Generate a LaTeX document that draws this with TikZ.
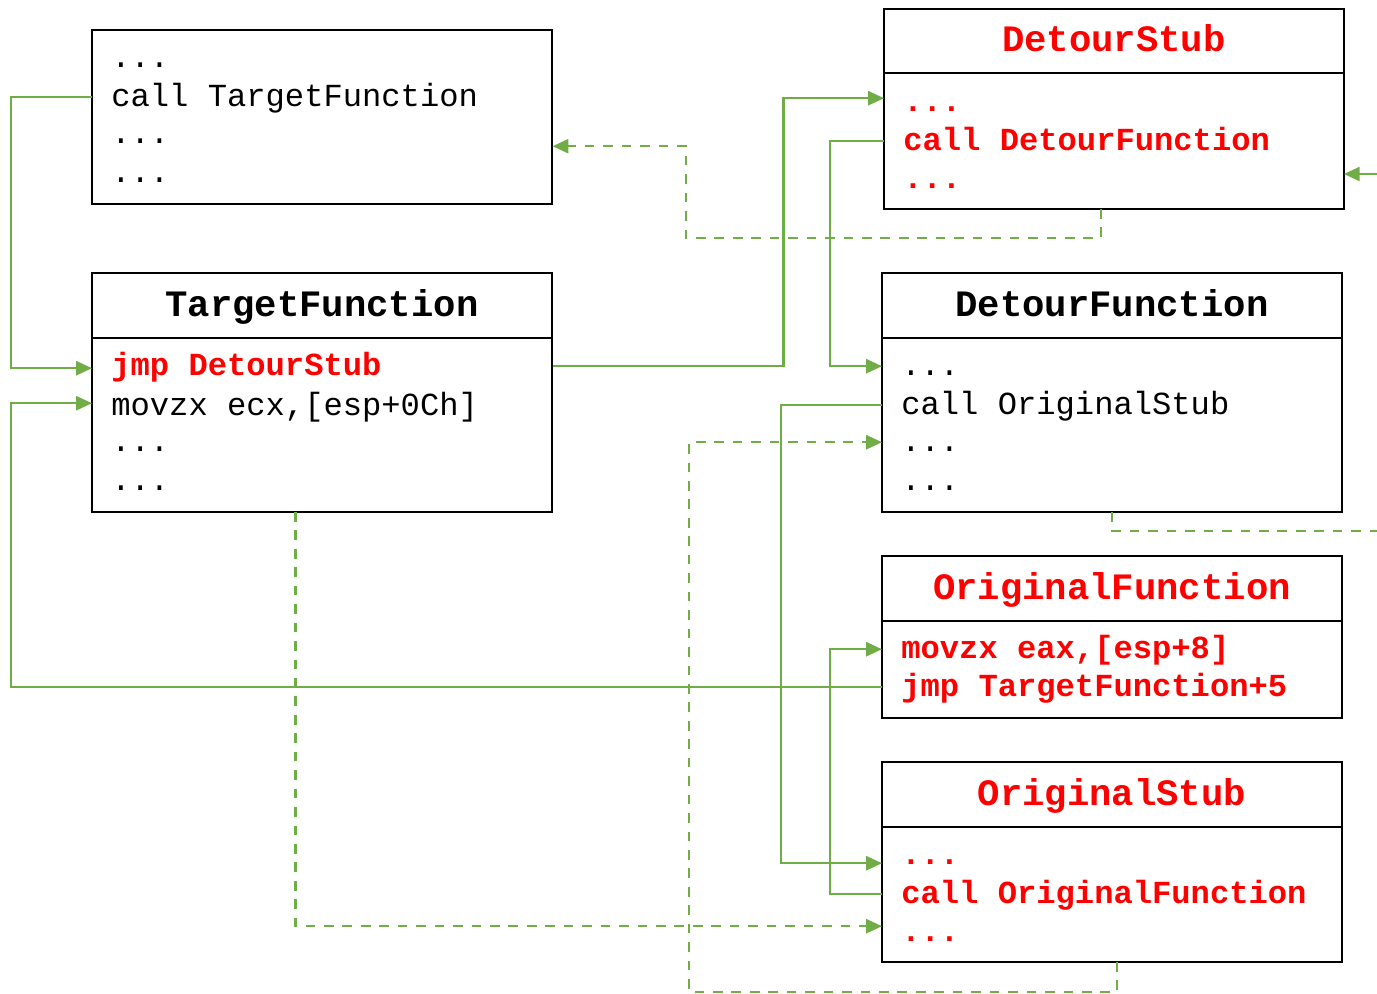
\documentclass[tikz,border=0pt]{standalone}
\usepackage{fontspec}
\newfontfamily\codefont{Liberation Mono}
\usetikzlibrary{arrows.meta}
\definecolor{flowgreen}{HTML}{70AD47}
\begin{document}
\begin{tikzpicture}[x=0.02cm,y=-0.02cm,>={Triangle[length=9pt,width=8pt]},
  box/.style={draw,line width=1.3pt,minimum width=9.2cm,outer sep=0pt,anchor=north west},
  head/.style={box,minimum height=1.3cm,font=\codefont\bfseries\fontsize{21.2}{25}\selectfont,text height=12pt,text depth=0pt},
  ln/.style={anchor=base west,text width=8.44cm,align=left,inner xsep=0.38cm,inner ysep=0pt,text height=10pt,text depth=0pt,
    font=\codefont\fontsize{18.3}{22}\selectfont,execute at begin node={\spaceskip=0.6em\relax}},
  hot/.style={text=red,font=\codefont\bfseries\fontsize{18.3}{22}\selectfont},
  flow/.style={draw=flowgreen,line width=1.3pt,->},
  jump/.style={flow,dash pattern=on 5.5pt off 5pt}]
\useasboundingbox (0,0) rectangle (1377,994);
% caller
\node[box,minimum height=3.48cm] (caller) at (92,30) {};
\node[ln] (cdots1) at (92,67) {...};
\node[ln] (ccall) at (92,106) {call TargetFunction};
\node[ln] (cdots2) at (92,143) {...};
\node[ln] (cdots3) at (92,182) {...};
% TargetFunction
\node[head] (tfhead) at (92,273) {TargetFunction};
\node[box,minimum height=3.48cm] (tfbody) at (92,338) {};
\node[ln,hot] (tfjmp) at (92,375) {jmp DetourStub};
\node[ln] (tfmov) at (92,415) {movzx ecx,[esp+0Ch]};
\node[ln] (tfdots1) at (92,451) {...};
\node[ln] (tfdots2) at (92,490) {...};
% DetourStub
\node[head,text=red,minimum height=1.28cm] (dshead) at (884,9) {DetourStub};
\node[box,minimum height=2.72cm] (dsbody) at (884,73) {};
\node[ln,hot] (dsdots1) at (884,111) {...};
\node[ln,hot] (dscall) at (884,150) {call DetourFunction};
\node[ln,hot] (dsdots2) at (884,188) {...};
% DetourFunction
\node[head] (dfhead) at (882,273) {DetourFunction};
\node[box,minimum height=3.48cm] (dfbody) at (882,338) {};
\node[ln] (dfdots1) at (882,375) {...};
\node[ln] (dfcall) at (882,414) {call OriginalStub};
\node[ln] (dfdots2) at (882,451) {...};
\node[ln] (dfdots3) at (882,490) {...};
% OriginalFunction
\node[head,text=red] (ofhead) at (882,556) {OriginalFunction};
\node[box,minimum height=1.94cm] (ofbody) at (882,621) {};
\node[ln,hot] (ofmov) at (882,658) {movzx eax,[esp+8]};
\node[ln,hot] (ofjmp) at (882,696) {jmp TargetFunction+5};
% OriginalStub
\node[head,text=red] (oshead) at (882,762) {OriginalStub};
\node[box,minimum height=2.7cm] (osbody) at (882,827) {};
\node[ln,hot] (osdots1) at (882,864) {...};
\node[ln,hot] (oscall) at (882,903) {call OriginalFunction};
\node[ln,hot] (osdots2) at (882,941) {...};
% calls and jumps
\draw[flow] (ccall.west) -- ++(-81,0) |- ([yshift=-0.04cm]tfjmp.west);
\draw[flow] (tfjmp.east) -- ++(231,0) |- ([yshift=0.08cm]dsdots1.west);
\draw[flow] (dscall.west) -- ++(-54,0) |- (dfdots1.west);
\draw[flow] (dfcall.west) -- ++(-101,0) |- ([yshift=-0.16cm]osdots1.west);
\draw[flow] (oscall.west) -- ++(-52,0) |- (ofmov.west);
\draw[flow] (ofjmp.west) -- ++(-871,0) |- ([yshift=0.06cm]tfmov.west);
\coordinate (dsin) at (1377,174);
\draw[flow] (dsin) -- (dsin -| dsbody.east);
% returns
\draw[jump] ([xshift=-0.26cm]dsbody.south) -- ++(0,29) -- ++(-415,0) |- ([yshift=-0.24cm]cdots2.east);
\draw[jump] ([xshift=-0.53cm]tfbody.south) |- ([yshift=0.12cm]osdots2.west);
\draw[jump] ([xshift=0.1cm]osbody.south) -- ++(0,30) -- ++(-428,0) |- (dfdots2.west);
\coordinate (dfout) at (1377,531);
\draw[jump,-] (dfbody.south) |- (dfout);
\end{tikzpicture}
\end{document}
